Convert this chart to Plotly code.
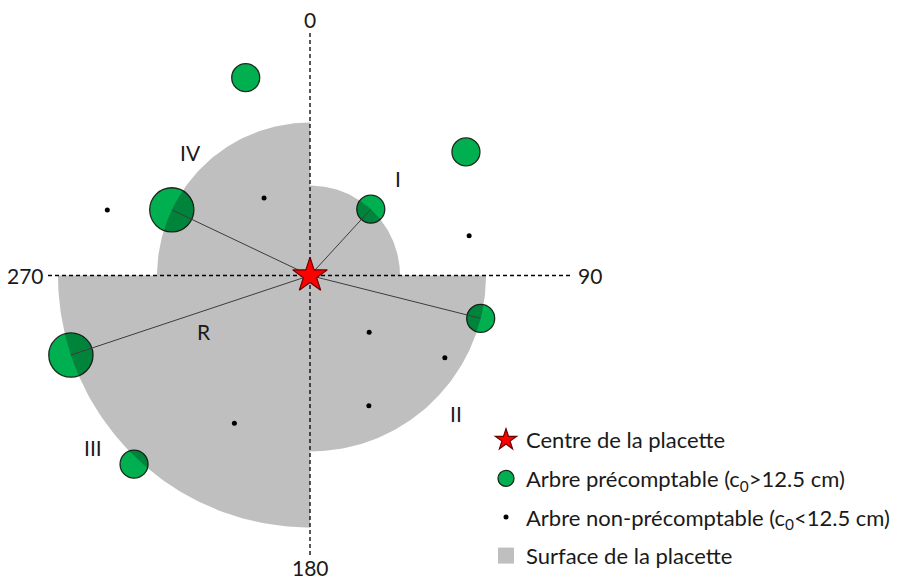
import numpy as np
import plotly.graph_objects as go

# ---------------- data ----------------
# Trees located by azimuth (degrees, clockwise from north) and distance (m) from plot centre
pre_az = [342.0, 295.4, 42.5, 51.6, 104.1, 251.6, 223.0]        # arbres précomptables
pre_dist = [20.8, 15.3, 9.0, 19.9, 17.6, 25.2, 25.8]
pre_c0 = [21.5, 34.0, 21.5, 21.5, 21.5, 34.0, 21.5]               # circumference class (cm)

non_az = [287.9, 329.3, 76.0, 133.8, 121.4, 155.7, 207.1]         # arbres non-précomptables
non_dist = [21.3, 9.0, 16.4, 8.2, 15.8, 14.3, 16.6]

quad_names = ["I", "II", "III", "IV"]
quad_az = [(0, 90), (90, 180), (180, 270), (270, 360)]
quad_ref_tree = [2, 4, 5, 1]        # index of the précomptable tree defining radius R of each quadrant

compass_labels = ["0", "90", "180", "270"]

legend_names = [
    "Centre de la placette",
    "Arbre précomptable (c<sub>0</sub>&gt;12.5 cm)",
    "Arbre non-précomptable (c<sub>0</sub>&lt;12.5 cm)",
    "Surface de la placette",
]

# ---------------- helpers ----------------
def to_xy(az, d):
    a = np.radians(np.asarray(az, dtype=float))
    d = np.asarray(d, dtype=float)
    return d * np.sin(a), d * np.cos(a)

FONT = "Lato"
GREEN = "#00B050"
W, H = 898, 579
PX = 10.0                 # pixels per metre
CX, CY = 310.0, 275.5     # centre position in the picture

fig = go.Figure()

# précomptable trees (drawn first, the translucent surface darkens their overlap)
px_, py_ = to_xy(pre_az, pre_dist)
fig.add_trace(go.Scatter(
    x=px_, y=py_, mode="markers", name=legend_names[1],
    marker=dict(symbol="circle", color=GREEN, size=[c * 1.3 for c in pre_c0], opacity=1,
                line=dict(color="#1c2a1c", width=1.3)),
    legendrank=2, legendgroup="g2", hoverinfo="skip"))

# surface de la placette: four quarter discs, radius = distance of reference tree
sx, sy = [], []
for (a0, a1), t in zip(quad_az, quad_ref_tree):
    r = pre_dist[t]
    ang = np.linspace(a0, a1, 90)
    ax_, ay_ = to_xy(ang, np.full_like(ang, r))
    sx += [0.0] + list(ax_) + [0.0, None]
    sy += [0.0] + list(ay_) + [0.0, None]
fig.add_trace(go.Scatter(
    x=sx, y=sy, mode="lines", fill="toself", fillcolor="rgba(0,0,0,0.25)",
    line=dict(width=0, color="rgba(0,0,0,0)"), showlegend=False, hoverinfo="skip"))
fig.add_trace(go.Scatter(
    x=[None], y=[None], mode="markers", name=legend_names[3],
    marker=dict(symbol="square", color="#BFBFBF", size=16),
    legendrank=4, legendgroup="g4"))

# radius lines R
lx, ly = [], []
for t in quad_ref_tree:
    lx += [0.0, px_[t], None]
    ly += [0.0, py_[t], None]
fig.add_trace(go.Scatter(
    x=lx, y=ly, mode="lines", line=dict(color="#3c3c3c", width=1),
    showlegend=False, hoverinfo="skip"))

# non-précomptable trees
nx_, ny_ = to_xy(non_az, non_dist)
fig.add_trace(go.Scatter(
    x=nx_, y=ny_, mode="markers", name=legend_names[2],
    marker=dict(symbol="circle", color="black", size=5),
    legendrank=3, legendgroup="g3", hoverinfo="skip"))

# centre
fig.add_trace(go.Scatter(
    x=[0], y=[0], mode="markers", name=legend_names[0],
    marker=dict(symbol="star", color="#FF0000", size=26,
                line=dict(color="#6b0000", width=1.2)),
    legendrank=1, legendgroup="g1", hoverinfo="skip"))

# dashed compass axes
AX_N, AX_S, AX_W, AX_E = 24.35, 27.95, 26.2, 26.3
dash = dict(color="black", width=1.3, dash="4px,3px")
fig.add_shape(type="line", x0=0, x1=0, y0=-AX_S, y1=AX_N, line=dash, layer="below")
fig.add_shape(type="line", x0=-AX_W, x1=AX_E, y0=0, y1=0, line=dash, layer="below")

lab_font = dict(family=FONT, size=21, color="#1a1a1a")
for txt, (x, y, xa) in zip(compass_labels,
                           [(0, 25.6, "center"), (AX_E + 0.3, 0, "left"),
                            (0, -29.2, "center"), (-AX_W - 0.2, 0, "right")]):
    fig.add_annotation(x=x, y=y, text=txt, showarrow=False, xanchor=xa, yanchor="middle",
                       font=lab_font)

# quadrant labels and R
for txt, (x, y) in zip(quad_names + ["R"],
                       [(8.8, 9.75), (14.6, -13.8), (-21.7, -17.2), (-12.0, 12.35), (-10.6, -5.55)]):
    fig.add_annotation(x=x, y=y, text=txt, showarrow=False, font=lab_font)

fig.update_layout(
    width=W, height=H, margin=dict(l=0, r=0, t=0, b=0, autoexpand=False),
    paper_bgcolor="white", plot_bgcolor="white",
    xaxis=dict(visible=False, range=[-CX / PX, (W - CX) / PX], fixedrange=True),
    yaxis=dict(visible=False, range=[-(H - CY) / PX, CY / PX], fixedrange=True),
    showlegend=True,
    legend=dict(x=486 / W, y=(H - 419) / H, xanchor="left", yanchor="top",
                font=dict(family=FONT, size=22, color="#1a1a1a"),
                bgcolor="rgba(0,0,0,0)", tracegroupgap=7, itemsizing="trace"),
)

fig.write_html("out.html", config={"displayModeBar": False},
               post_script="document.body.style.margin='0px';document.body.style.overflow='hidden';")
